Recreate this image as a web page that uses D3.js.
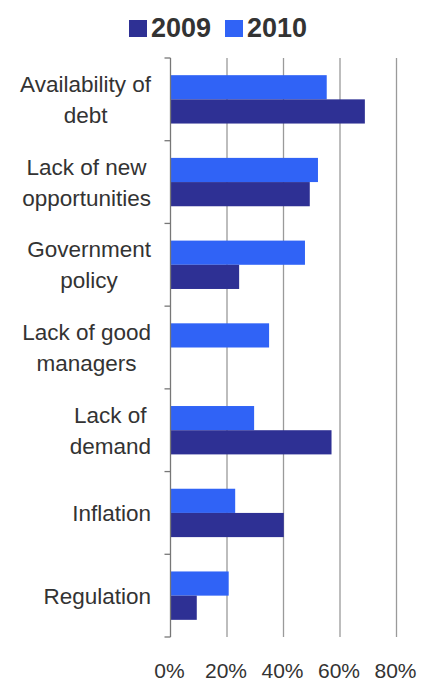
<!DOCTYPE html>
<html>
<head>
<meta charset="utf-8">
<script src="https://cdn.jsdelivr.net/npm/d3@7"></script>
<style>
  body { margin: 0; background: #fff; }
  svg { display: block; font-family: "Liberation Sans", Arial, sans-serif; }
</style>
</head>
<body>
<div id="chart"></div>
<script>
// categories (top to bottom), each label split into lines
const categories = ["Availability of debt", "Lack of new opportunities", "Government policy",
  "Lack of good managers", "Lack of demand", "Inflation", "Regulation"];
const labelLines = [["Availability of", "debt"], ["Lack of new", "opportunities"], ["Government", "policy"],
  ["Lack of good", "managers"], ["Lack of", "demand"], ["Inflation"], ["Regulation"]];
const series = ["2010", "2009"];
const values2010 = [55.3, 52.2, 47.6, 34.9, 29.6, 22.9, 20.6];
const values2009 = [68.8, 49.3, 24.3, 0, 57.0, 40.1, 9.3];
const xTicks = [0, 20, 40, 60, 80];
const legendItems = ["2009", "2010"];

const colors = { "2009": "#2e3094", "2010": "#3063f6" };

const W = 421, H = 684;
const svg = d3.select("#chart").append("svg")
  .attr("width", W).attr("height", H);

const x = d3.scaleLinear().domain([0, 80]).range([170.5, 396.5]);
const y = d3.scaleBand().domain(categories).range([58, 637]).padding(0);
const sub = d3.scaleBand().domain(series).range([0, y.bandwidth()]).paddingInner(0).paddingOuter(0.71);

// gridlines
svg.append("g")
  .selectAll("line")
  .data(xTicks.slice(1))
  .join("line")
  .attr("x1", d => x(d)).attr("x2", d => x(d))
  .attr("y1", 58).attr("y2", 637)
  .attr("stroke", "#9a9a9a")
  .attr("stroke-width", 1.3);

// bars
const rows = categories.map((c, i) => ({ cat: c, "2010": values2010[i], "2009": values2009[i] }));
const groups = svg.append("g").selectAll("g")
  .data(rows)
  .join("g")
  .attr("transform", d => `translate(0,${y(d.cat)})`);

groups.selectAll("rect")
  .data(d => series.map(s => ({ s, v: d[s] })))
  .join("rect")
  .attr("x", x(0))
  .attr("y", d => sub(d.s))
  .attr("width", d => x(d.v) - x(0))
  .attr("height", sub.bandwidth())
  .attr("fill", d => colors[d.s]);

// left axis line with ticks at category boundaries
const boundaries = categories.map(c => y(c)).concat([y.range()[1]]);
svg.append("line")
  .attr("x1", x(0)).attr("x2", x(0))
  .attr("y1", 58).attr("y2", 637)
  .attr("stroke", "#777").attr("stroke-width", 1.3);
svg.append("g").selectAll("line")
  .data(boundaries)
  .join("line")
  .attr("x1", x(0) - 6).attr("x2", x(0))
  .attr("y1", d => d).attr("y2", d => d)
  .attr("stroke", "#777").attr("stroke-width", 1.3);

// category labels: centered lines, block right aligned
const lineH = 31;
labelLines.forEach((lines, i) => {
  const g = svg.append("g");
  const cy = y(categories[i]) + y.bandwidth() / 2;
  const texts = lines.map((t, j) => g.append("text")
    .attr("y", cy + (j - (lines.length - 1) / 2) * lineH + 8)
    .attr("text-anchor", "middle")
    .attr("fill", "#333")
    .style("font-size", "22.5px")
    .text(t));
  const maxW = d3.max(texts, t => t.node().getComputedTextLength());
  texts.forEach(t => t.attr("x", 151 - maxW / 2));
});

// x tick labels
svg.append("g").selectAll("text")
  .data(xTicks)
  .join("text")
  .attr("x", d => x(d) - 1)
  .attr("y", 678)
  .attr("text-anchor", "middle")
  .attr("fill", "#333")
  .style("font-size", "21px")
  .text(d => d + "%");

// legend
const legendX = [129, 225];
legendItems.forEach((s, i) => {
  svg.append("rect")
    .attr("x", legendX[i]).attr("y", 20)
    .attr("width", 18).attr("height", 17)
    .attr("fill", colors[s]);
  svg.append("text")
    .attr("x", legendX[i] + 22).attr("y", 37)
    .attr("fill", "#333")
    .style("font-size", "27px")
    .style("font-weight", "bold")
    .text(s);
});
</script>
</body>
</html>
